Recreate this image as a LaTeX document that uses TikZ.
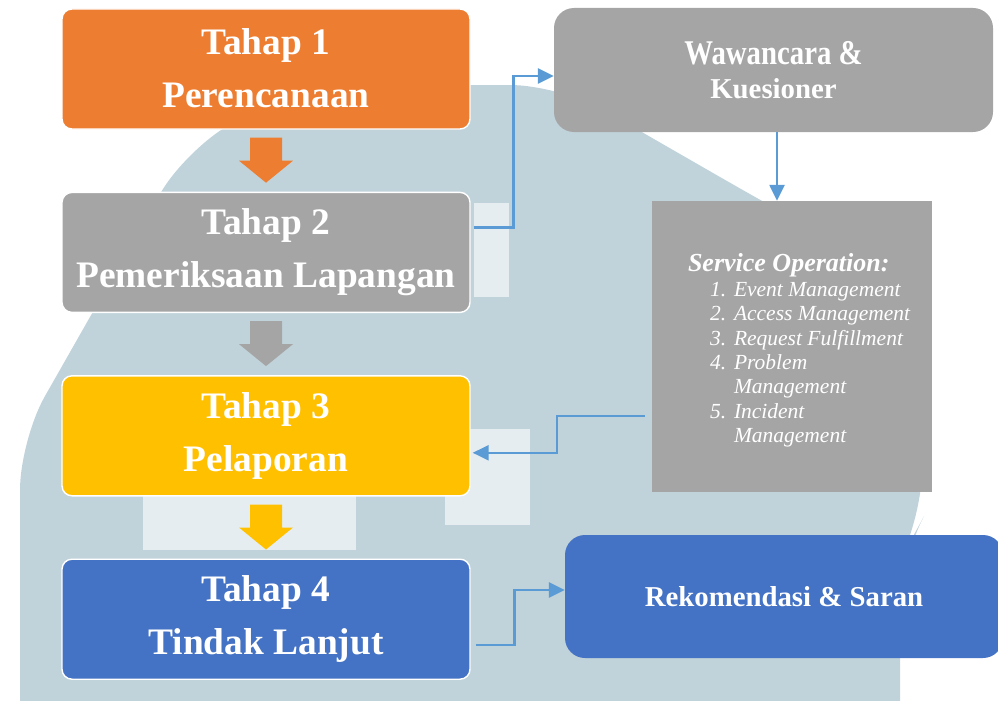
\documentclass[tikz,border=0pt]{standalone}
\usepackage{fontspec}
\setmainfont{Liberation Serif}
\newfontfamily\tallserif[FakeStretch=0.83]{Liberation Serif}
\usetikzlibrary{positioning, arrows.meta}

\definecolor{stageorange}{HTML}{ED7D31}
\definecolor{stagegray}{HTML}{A5A5A5}
\definecolor{stageyellow}{HTML}{FFC000}
\definecolor{stageblue}{HTML}{4472C4}
\definecolor{linkblue}{HTML}{5B9BD5}
\definecolor{wmark}{HTML}{C0D3DA}

\newcommand{\svcitem}[2]{\hspace*{22pt}\makebox[24pt][l]{#1}#2}

\begin{document}
\begin{tikzpicture}[x=1pt, y=-1pt,
  stagebox/.style={draw=white, line width=1.4pt, rounded corners=10pt,
    minimum width=408pt, minimum height=120pt, inner sep=0pt, align=center,
    text=white, font=\fontsize{37.4}{53}\selectfont\bfseries,
    execute at end node={\rule[-2pt]{0pt}{0pt}}},
  sidebox/.style={rounded corners=20pt, minimum height=124pt, inner sep=0pt,
    align=center, text=white, font=\fontsize{28.8}{34}\selectfont\bfseries},
  link/.style={draw=linkblue, line width=2.5pt, -{Triangle[length=16pt, width=15pt]}},
]
  \useasboundingbox (0,0) rectangle (998,701);

  % watermark in the back
  \fill[wmark, rounded corners=50pt] (20,760) -- (20,440) -- (185,150) -- (300,85)
    -- (560,85) -- (760,200) -- (922,290) -- (922,520) -- (900,560) -- (900,760) -- cycle;
  \fill[white, opacity=0.6] (474,203) rectangle (509,297);
  \fill[white, opacity=0.6] (445,429) rectangle (530,525);
  \fill[white, opacity=0.6] (143,496) rectangle (356,550);

  % stages
  \node[stagebox, fill=stageorange] (t1) at (266,69) {Tahap 1\\Perencanaan};
  \node[stagebox, fill=stagegray, below=62pt of t1] (t2) {Tahap 2\\Pemeriksaan Lapangan};
  \node[stagebox, fill=stageyellow, below=62pt of t2] (t3) {Tahap 3\\Pelaporan};
  \node[stagebox, fill=stageblue, below=62pt of t3] (t4) {Tahap 4\\Tindak Lanjut};

  \foreach \stage/\col in {t1/stageorange, t2/stagegray, t3/stageyellow}
    \fill[\col] ([yshift=-8pt]\stage.south) ++(-16,0) -- ++(32,0) -- ++(0,23)
      -- ++(11,0) -- ++(-27,22) -- ++(-27,-22) -- ++(11,0) -- cycle;

  % right column
  \node[sidebox, fill=stagegray, minimum width=439pt] (waw) at (773.5,70)
    {\tallserif\fontsize{34.7}{34}\selectfont Wawancara \&\\Kuesioner};
  \node[fill=stagegray, minimum width=280pt, minimum height=291pt] (svc) at (792,346.5) {};
  \node[anchor=west, inner sep=0pt, align=left, text=white,
    font=\fontsize{21.5}{24.4}\selectfont\itshape] (svclist) at ([xshift=36pt, yshift=-4pt]svc.west)
    {{\fontsize{26}{24.4}\selectfont\bfseries Service Operation:}\\
     \svcitem{1.}{Event Management}\\
     \svcitem{2.}{Access Management}\\
     \svcitem{3.}{Request Fulfillment}\\
     \svcitem{4.}{Problem}\\
     \svcitem{}{Management}\\
     \svcitem{5.}{Incident}\\
     \svcitem{}{Management}};
  \node[sidebox, fill=stageblue, minimum width=438pt, minimum height=123pt] (rek) at (784,596.5)
    {Rekomendasi \& Saran};

  % connectors
  \draw[link] ([xshift=3pt, yshift=25pt]t2.east) -- ++(40,0) |- ([yshift=-6pt]waw.west);
  \draw[link] ([xshift=3.5pt]waw.south) -- ([xshift=3.5pt]waw.south |- svc.north);
  \draw[link] ([xshift=-7pt, yshift=-69.5pt]svc.west) -- ++(-88,0) |- ([xshift=2pt, yshift=-17pt]t3.east);
  \draw[link] ([xshift=5pt, yshift=-26pt]t4.east) -- ++(39,0) |- ([yshift=6.5pt]rek.west);
\end{tikzpicture}
\end{document}
